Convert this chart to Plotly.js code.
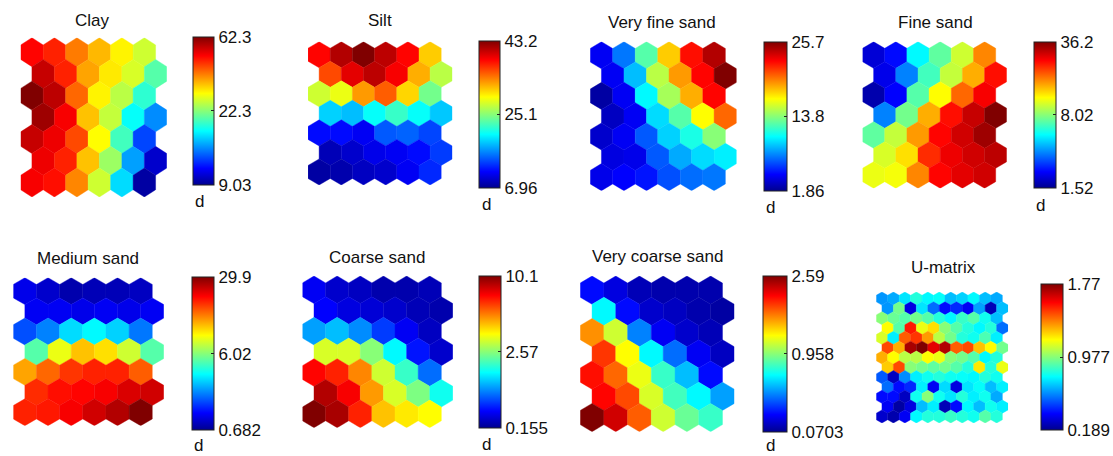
<!DOCTYPE html>
<html>
<head>
<meta charset="utf-8">
<script src="https://cdn.plot.ly/plotly-3.0.1.min.js"></script>
<style>html,body{margin:0;padding:0;background:#fff;}#chart{width:1113px;height:456px;}</style>
</head>
<body>
<div id="chart"></div>
<script>
// ---- Data: normalized component-plane values (0 = bottom of colour bar, 1 = top), rows top->bottom ----
const titles = ['Clay','Silt','Very fine sand','Fine sand','Medium sand','Coarse sand','Very coarse sand','U-matrix'];

const clayTicks = ['9.03','22.3','62.3'];
const siltTicks = ['6.96','25.1','43.2'];
const vfsTicks  = ['1.86','13.8','25.7'];
const fsTicks   = ['1.52','8.02','36.2'];
const msTicks   = ['0.682','6.02','29.9'];
const csTicks   = ['0.155','2.57','10.1'];
const vcsTicks  = ['0.0703','0.958','2.59'];
const umatTicks = ['0.189','0.977','1.77'];

const clay = [
  [0.87,0.84,0.75,0.69,0.63,0.57],
  [0.93,0.84,0.71,0.64,0.58,0.45],
  [1.00,0.94,0.77,0.63,0.55,0.41],
  [0.97,0.88,0.68,0.56,0.37,0.25],
  [0.93,0.89,0.80,0.62,0.43,0.18],
  [0.89,0.84,0.68,0.52,0.27,0.06],
  [0.88,0.86,0.74,0.57,0.33,0.02]
];
const silt = [
  [0.87,0.95,1.00,0.94,0.87,0.67],
  [0.80,0.90,0.94,0.88,0.70,0.55],
  [0.57,0.60,0.72,0.78,0.66,0.48],
  [0.32,0.30,0.37,0.42,0.37,0.31],
  [0.12,0.12,0.10,0.20,0.21,0.18],
  [0.04,0.06,0.09,0.10,0.12,0.17],
  [0.02,0.03,0.05,0.06,0.10,0.15]
];
const veryFineSand = [
  [0.10,0.23,0.45,0.67,0.86,0.95],
  [0.10,0.30,0.55,0.72,0.87,1.00],
  [0.02,0.10,0.36,0.53,0.70,0.87],
  [0.05,0.10,0.33,0.45,0.62,0.77],
  [0.06,0.10,0.20,0.32,0.39,0.50],
  [0.08,0.09,0.20,0.28,0.33,0.35],
  [0.09,0.11,0.13,0.19,0.22,0.23]
];
const fineSand = [
  [0.07,0.12,0.36,0.46,0.57,0.74],
  [0.09,0.24,0.43,0.56,0.70,0.86],
  [0.03,0.11,0.45,0.62,0.77,0.88],
  [0.24,0.48,0.70,0.86,0.93,1.00],
  [0.46,0.56,0.72,0.87,0.92,0.97],
  [0.58,0.65,0.83,0.89,0.92,0.94],
  [0.60,0.61,0.74,0.87,0.90,0.92]
];
const mediumSand = [
  [0.09,0.06,0.03,0.04,0.04,0.05],
  [0.10,0.10,0.09,0.10,0.09,0.10],
  [0.19,0.24,0.33,0.36,0.32,0.23],
  [0.45,0.60,0.68,0.65,0.57,0.45],
  [0.71,0.77,0.82,0.84,0.84,0.78],
  [0.83,0.86,0.87,0.88,0.91,0.92],
  [0.84,0.85,0.88,0.92,0.95,1.00]
];
const coarseSand = [
  [0.10,0.06,0.05,0.03,0.03,0.04],
  [0.11,0.08,0.07,0.06,0.04,0.03],
  [0.27,0.30,0.25,0.17,0.10,0.05],
  [0.58,0.58,0.50,0.36,0.13,0.06],
  [0.87,0.84,0.74,0.57,0.42,0.22],
  [0.95,0.88,0.72,0.58,0.49,0.38],
  [1.00,0.96,0.84,0.68,0.64,0.62]
];
const veryCoarseSand = [
  [0.12,0.08,0.04,0.03,0.03,0.03],
  [0.36,0.12,0.06,0.05,0.03,0.02],
  [0.73,0.57,0.24,0.10,0.06,0.04],
  [0.82,0.62,0.36,0.22,0.10,0.05],
  [0.86,0.77,0.60,0.42,0.30,0.12],
  [0.87,0.80,0.58,0.43,0.36,0.27],
  [1.00,0.92,0.78,0.57,0.47,0.42]
];
const uMatrix = [
  [0.26,0.28,0.34,0.40,0.36,0.37,0.30,0.32,0.36,0.30,0.28],
  [0.26,0.48,0.08,0.34,0.22,0.12,0.15,0.10,0.27,0.04,0.30],
  [0.50,0.47,0.45,0.48,0.45,0.40,0.36,0.42,0.45,0.38,0.30],
  [0.62,0.45,0.85,0.60,0.65,0.50,0.45,0.40,0.36,0.40,0.22],
  [0.58,0.35,0.78,0.82,0.72,0.55,0.48,0.40,0.38,0.44,0.35],
  [0.80,0.70,0.96,1.00,0.90,0.95,0.78,0.80,0.68,0.62,0.48],
  [0.70,0.62,0.55,0.55,0.62,0.60,0.50,0.48,0.45,0.36,0.40],
  [0.67,0.80,0.50,0.48,0.46,0.48,0.45,0.40,0.64,0.40,0.60],
  [0.20,0.05,0.25,0.35,0.38,0.40,0.38,0.37,0.36,0.40,0.38],
  [0.22,0.12,0.15,0.35,0.10,0.33,0.08,0.34,0.37,0.30,0.35],
  [0.12,0.12,0.05,0.38,0.50,0.38,0.34,0.40,0.35,0.38,0.28],
  [0.10,0.02,0.08,0.30,0.35,0.04,0.12,0.36,0.30,0.38,0.35],
  [0.06,0.03,0.10,0.36,0.40,0.40,0.42,0.40,0.38,0.45,0.40]
];

const planes = [clay, silt, veryFineSand, fineSand, mediumSand, coarseSand, veryCoarseSand, uMatrix];
const tickSets = [clayTicks, siltTicks, vfsTicks, fsTicks, msTicks, csTicks, vcsTicks, umatTicks];
const unitLabels = ['d','d','d','d','d','d','d',''];

// ---- Layout geometry (pixels) ----
const W = 1113, H = 456;
const geom = [
  {grid:[20.7,167,37.7,197],    bar:[192.7,214,36.7,185],    title:[93,20],   unit:[200,202]},
  {grid:[308.3,452.7,41.7,185], bar:[479,500,41,188.3],      title:[380,21],  unit:[487,204]},
  {grid:[590.7,737.3,41.7,190.7],bar:[764,786.7,41.7,191],   title:[663,23],  unit:[771,207]},
  {grid:[863.3,1007.7,41.7,188.3],bar:[1034.3,1056.7,41.7,187.7],title:[936,23],unit:[1041,205]},
  {grid:[13.3,164,277.7,425.7], bar:[191.7,213.3,277.3,430], title:[88,258],  unit:[199,445]},
  {grid:[302.7,453.3,276,427.7],bar:[479.3,501.7,275.7,427.7],title:[377,257],unit:[487,444]},
  {grid:[580.7,735,276,431.7],  bar:[763.3,787.7,275.7,431.7],title:[658,256],unit:[771,445]},
  {grid:[877,1009,292,423],     bar:[1041,1062.7,284.3,430], title:[944,267], unit:[0,0]}
];

// MATLAB "jet" colour map
const jet = [[0,'rgb(0,0,143)'],[0.111,'rgb(0,0,255)'],[0.365,'rgb(0,255,255)'],
             [0.619,'rgb(255,255,0)'],[0.873,'rgb(255,0,0)'],[1,'rgb(128,0,0)']];
const jetRGB = jet.map(s => [s[0], s[1].match(/\d+/g).map(Number)]);
function jetColor(v){
  v = Math.max(0, Math.min(1, v));
  for (let i = 1; i < jetRGB.length; i++){
    if (v <= jetRGB[i][0]){
      const a = jetRGB[i-1], b = jetRGB[i];
      const t = (v - a[0]) / (b[0] - a[0]);
      const c = a[1].map((x,k) => Math.round(x + (b[1][k]-x)*t));
      return 'rgb(' + c.join(',') + ')';
    }
  }
  return jet[jet.length-1][1];
}

const FONT = 'Liberation Sans, Arial, Helvetica, sans-serif';
const traces = [];
const layout = {
  width: W, height: H, margin:{l:0,r:0,t:0,b:0},
  paper_bgcolor:'#fff', plot_bgcolor:'rgba(0,0,0,0)', showlegend:false,
  annotations: [], hovermode:'closest'
};

planes.forEach((plane, p) => {
  const g = geom[p];
  const nRows = plane.length, nCols = plane[0].length;
  const ax = p === 0 ? '' : String(p+1);
  const xa = 'x' + ax, ya = 'y' + ax;
  const xw = nCols + 0.5, yh = 0.75*(nRows-1) + 1;
  layout['xaxis' + ax] = {domain:[g.grid[0]/W, g.grid[1]/W], range:[0, xw], visible:false, fixedrange:true, anchor: ya};
  layout['yaxis' + ax] = {domain:[1 - g.grid[3]/H, 1 - g.grid[2]/H], range:[-yh, 0], visible:false, fixedrange:true, anchor: xa};

  const cxs = [], cys = [], vals = [];
  plane.forEach((row, r) => {
    row.forEach((v, c) => {
      const cx = c + 0.5 + 0.5*(r % 2);
      const cy = -(0.5 + 0.75*r);
      cxs.push(cx); cys.push(cy); vals.push(v);
      const col = jetColor(v);
      traces.push({
        type:'scatter', mode:'lines', xaxis:xa, yaxis:ya,
        x:[cx, cx+0.5, cx+0.5, cx, cx-0.5, cx-0.5, cx],
        y:[cy+0.5, cy+0.25, cy-0.25, cy-0.5, cy-0.25, cy+0.25, cy+0.5],
        fill:'toself', fillcolor:col, line:{color:col, width:0.4},
        hoverinfo:'skip', showlegend:false
      });
    });
  });

  // colour bar carrier (invisible markers at cell centres)
  traces.push({
    type:'scatter', mode:'markers', xaxis:xa, yaxis:ya, x:cxs, y:cys,
    marker:{color:vals, cmin:0, cmax:1, colorscale:jet, size:10, opacity:0, showscale:true,
      colorbar:{
        x:g.bar[0]/W, xanchor:'left', xpad:0, xref:'paper',
        y:1 - g.bar[2]/H, yanchor:'top', ypad:0, yref:'paper',
        len:g.bar[3]-g.bar[2], lenmode:'pixels',
        thickness:g.bar[1]-g.bar[0], thicknessmode:'pixels',
        tickvals:[0,0.5,1], ticktext:tickSets[p], ticks:'inside', ticklen:3, tickcolor:'#222',
        tickfont:{family:FONT, size:17, color:'#111'},
        outlinewidth:1, outlinecolor:'#222', borderwidth:0
      }},
    hovertemplate: titles[p] + ': %{marker.color:.2f}<extra></extra>', showlegend:false
  });

  layout.annotations.push({
    text: titles[p], xref:'paper', yref:'paper', x:g.title[0]/W, y:1 - g.title[1]/H,
    xanchor:'center', yanchor:'middle', showarrow:false, font:{family:FONT, size:17, color:'#111'}
  });
  if (unitLabels[p]) {
    layout.annotations.push({
      text: unitLabels[p], xref:'paper', yref:'paper', x:g.unit[0]/W, y:1 - g.unit[1]/H,
      xanchor:'center', yanchor:'middle', showarrow:false, font:{family:FONT, size:17, color:'#111'}
    });
  }
});

Plotly.newPlot('chart', traces, layout, {displayModeBar:false, staticPlot:false});
</script>
</body>
</html>
